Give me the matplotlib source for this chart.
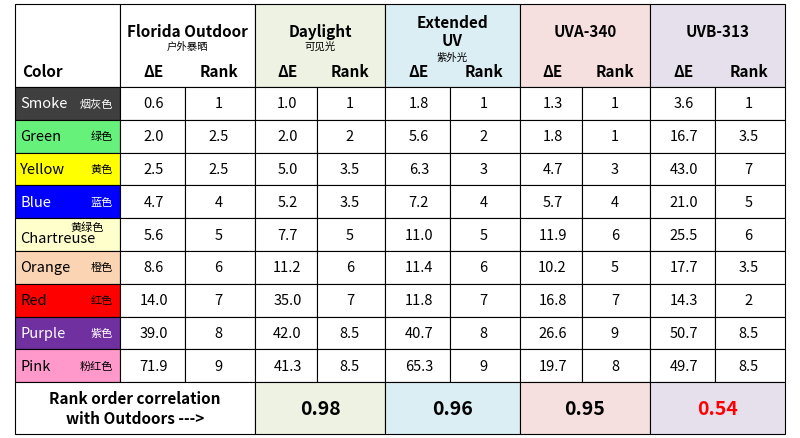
import matplotlib
matplotlib.use("Agg")
import matplotlib.pyplot as plt
from matplotlib.patches import Rectangle

plt.rcParams['font.family'] = ['Noto Sans CJK SC', 'DejaVu Sans']

colors_en = ["Smoke", "Green", "Yellow", "Blue", "Chartreuse", "Orange", "Red", "Purple", "Pink"]
colors_zh = ["烟灰色", "绿色", "黄色", "蓝色", "黄绿色", "橙色", "红色", "紫色", "粉红色"]
swatch = ["#3f3f3f", "#66f27a", "#ffff00", "#0000ff", "#ffffcc", "#fbd4b4", "#ff0000", "#7030a0", "#ff99cc"]
swatch_txt = ["white", "black", "black", "white", "black", "black", "black", "white", "black"]

groups = ["Florida Outdoor", "Daylight", "Extended\nUV", "UVA-340", "UVB-313"]
groups_zh = ["户外暴晒", "可见光", "紫外光", "", ""]
group_bg = ["white", "#eef2e2", "#dbeef4", "#f6e0df", "#e6e0ec"]
de_florida = [0.6, 2.0, 2.5, 4.7, 5.6, 8.6, 14.0, 39.0, 71.9]
rank_florida = ["1", "2.5", "2.5", "4", "5", "6", "7", "8", "9"]
de_daylight = [1.0, 2.0, 5.0, 5.2, 7.7, 11.2, 35.0, 42.0, 41.3]
rank_daylight = ["1", "2", "3.5", "3.5", "5", "6", "7", "8.5", "8.5"]
de_extuv = [1.8, 5.6, 6.3, 7.2, 11.0, 11.4, 11.8, 40.7, 65.3]
rank_extuv = ["1", "2", "3", "4", "5", "6", "7", "8", "9"]
de_uva = [1.3, 1.8, 4.7, 5.7, 11.9, 10.2, 16.8, 26.6, 19.7]
rank_uva = ["1", "1", "3", "4", "6", "5", "7", "9", "8"]
de_uvb = [3.6, 16.7, 43.0, 21.0, 25.5, 17.7, 14.3, 50.7, 49.7]
rank_uvb = ["1", "3.5", "7", "5", "6", "3.5", "2", "8.5", "8.5"]
correlation = [None, "0.98", "0.96", "0.95", "0.54"]
corr_color = [None, "black", "black", "black", "red"]

de_all = [de_florida, de_daylight, de_extuv, de_uva, de_uvb]
rk_all = [rank_florida, rank_daylight, rank_extuv, rank_uva, rank_uvb]

fig = plt.figure(figsize=(8, 4.39), dpi=100)
ax = fig.add_axes([0, 0, 1, 1])
ax.set_xlim(0, 800); ax.set_ylim(439, 0); ax.axis("off")

gx = [120, 255, 385, 520, 650, 785]
x0 = 15
ytop, yhdr = 5, 88
rowh = 32.8
ybot = yhdr + 9 * rowh
yend = 435
lw = 0.8

def rect(x, y, w, h, fc):
    ax.add_patch(Rectangle((x, y), w, h, facecolor=fc, edgecolor="black", lw=lw))

# header
rect(x0, ytop, gx[0] - x0, yhdr - ytop, "white")
ax.text(22, 72, "Color", fontsize=11, fontweight="bold", va="center")
for g in range(5):
    xa, xb = gx[g], gx[g + 1]
    xm = (xa + xb) / 2
    rect(xa, ytop, xb - xa, yhdr - ytop, group_bg[g])
    if g == 2:
        ax.text(xm, 32, groups[g], fontsize=11, fontweight="bold", ha="center", va="center", linespacing=1.1)
        ax.text(xm, 58, groups_zh[g], fontsize=7.5, ha="center", va="center")
    else:
        ax.text(xm, 32, groups[g], fontsize=11, fontweight="bold", ha="center", va="center")
        if groups_zh[g]:
            ax.text(xm, 47, groups_zh[g], fontsize=7.5, ha="center", va="center")
    ax.text(xa + 0.25 * (xb - xa), 72, "ΔE", fontsize=11, fontweight="bold", ha="center", va="center")
    ax.text(xa + 0.73 * (xb - xa), 72, "Rank", fontsize=11, fontweight="bold", ha="center", va="center")

# rows
for i in range(9):
    y = yhdr + i * rowh
    yc = y + rowh / 2
    rect(x0, y, gx[0] - x0, rowh, swatch[i])
    if colors_en[i] == "Chartreuse":
        ax.text(20, yc + 3, colors_en[i], fontsize=10.5, color=swatch_txt[i], va="center")
        ax.text(104, yc - 8, colors_zh[i], fontsize=8, color=swatch_txt[i], va="center", ha="right")
    else:
        ax.text(20, yc, colors_en[i], fontsize=10.5, color=swatch_txt[i], va="center")
        ax.text(113, yc, colors_zh[i], fontsize=8, color=swatch_txt[i], va="center", ha="right")
    for g in range(5):
        xa, xb = gx[g], gx[g + 1]
        xmid = xa + 0.48 * (xb - xa)
        rect(xa, y, xmid - xa, rowh, "white")
        rect(xmid, y, xb - xmid, rowh, "white")
        ax.text(xa + 0.25 * (xb - xa), yc, f"{de_all[g][i]:.1f}", fontsize=10.5, ha="center", va="center")
        ax.text(xa + 0.73 * (xb - xa), yc, rk_all[g][i], fontsize=10.5, ha="center", va="center")

# bottom row
rect(x0, ybot, gx[1] - x0, yend - ybot, "white")
ax.text((x0 + gx[1]) / 2, (ybot + yend) / 2, "Rank order correlation\nwith Outdoors --->",
        fontsize=11, fontweight="bold", ha="center", va="center", linespacing=1.3)
for g in range(1, 5):
    xa, xb = gx[g], gx[g + 1]
    rect(xa, ybot, xb - xa, yend - ybot, group_bg[g])
    ax.text((xa + xb) / 2, (ybot + yend) / 2, correlation[g], fontsize=14, fontweight="bold",
            color=corr_color[g], ha="center", va="center")

fig.savefig("out.png", dpi=100)
